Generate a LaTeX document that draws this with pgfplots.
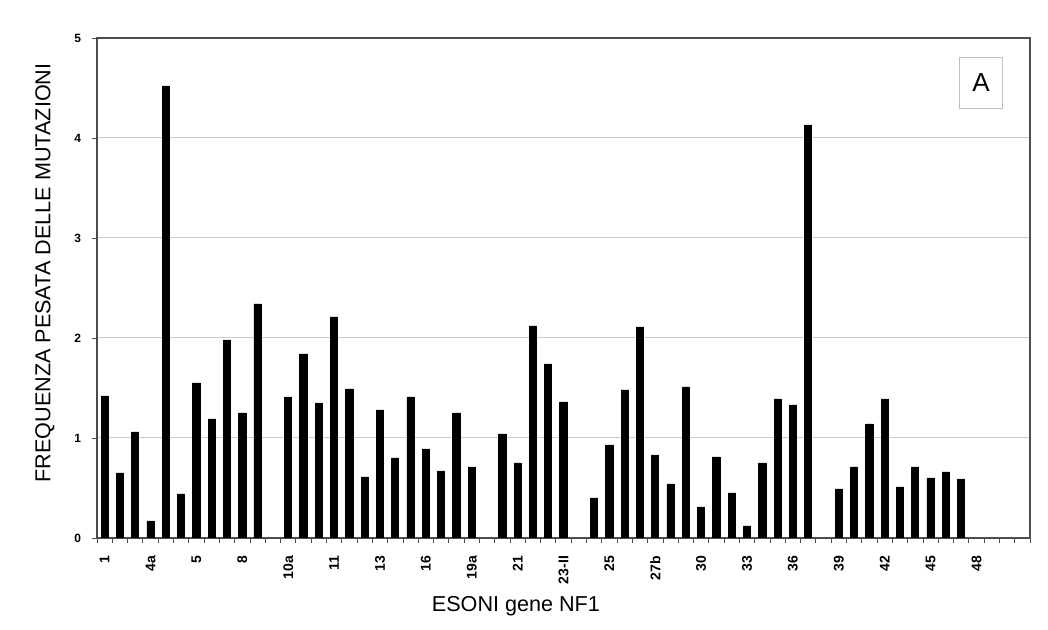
\documentclass[border=0pt]{standalone}
\usepackage{pgfplots}
\pgfplotsset{compat=1.18}
\usepackage{fontspec}
\setmainfont{Liberation Sans}

\begin{document}
\begin{tikzpicture}
  % keep the white margins of the reference
  \path[use as bounding box] (-48.5pt,-46pt) rectangle (475.5pt,269pt);
  \begin{axis}[
      at={(0,0)}, anchor=south west,
      scale only axis,
      width=466.5pt, height=250pt,
      xmin=-0.5, xmax=60.5,
      ymin=0, ymax=5,
      ytick={0,1,...,5},
      xtick={0,3,...,57},
      xticklabels={1,4a,5,8,10a,11,13,16,19a,21,23-II,25,27b,30,33,36,39,42,45,48},
      minor xtick={-0.5,0.5,...,60.5},
      xtick pos=bottom, ytick pos=left,
      tick align=outside,
      major tick length=2.5pt,
      minor tick length=2.5pt,
      major x tick style={draw=none},
      every tick/.style={gray!60!black},
      axis line style={gray!60!black, line width=0.6pt},
      ymajorgrids,
      grid style={gray!40, line width=0.5pt},
      /pgf/number format/assume math mode=true,
      yticklabel style={font=\fontsize{6}{7}\selectfont\bfseries, xshift=-2pt},
      xticklabel style={font=\fontsize{7}{8}\selectfont\bfseries, rotate=90, anchor=east, xshift=-3pt},
      xlabel={ESONI gene NF1},
      ylabel={FREQUENZA PESATA DELLE MUTAZIONI},
      label style={font=\fontsize{10.8}{13}\selectfont},
      xlabel style={at={(axis description cs:0.449,-0.136)}, anchor=center},
      ylabel style={at={(axis description cs:-0.056,0.53)}, anchor=center},
    ]
    \addplot[ybar, bar width=3.6pt, bar shift=0pt, fill=black, draw=black]
      coordinates {
        (0,1.42) (1,0.65) (2,1.06) (3,0.17) (4,4.52) (5,0.44) (6,1.55)
        (7,1.19) (8,1.98) (9,1.25) (10,2.34)
        (12,1.41) (13,1.84) (14,1.35) (15,2.21) (16,1.49) (17,0.61)
        (18,1.28) (19,0.80) (20,1.41) (21,0.89) (22,0.67) (23,1.25) (24,0.71)
        (26,1.04) (27,0.75) (28,2.12) (29,1.74) (30,1.36)
        (32,0.40) (33,0.93) (34,1.48) (35,2.11) (36,0.83) (37,0.54)
        (38,1.51) (39,0.31) (40,0.81) (41,0.45) (42,0.12) (43,0.75)
        (44,1.39) (45,1.33) (46,4.13)
        (48,0.49) (49,0.71) (50,1.14) (51,1.39) (52,0.51) (53,0.71)
        (54,0.60) (55,0.66) (56,0.59)
      };
    \node[draw=gray!50, fill=white, minimum width=21.5pt, minimum height=25.5pt,
          font=\fontsize{13}{15}\selectfont]
      at (rel axis cs:0.9475,0.91) {A};
  \end{axis}
\end{tikzpicture}
\end{document}
